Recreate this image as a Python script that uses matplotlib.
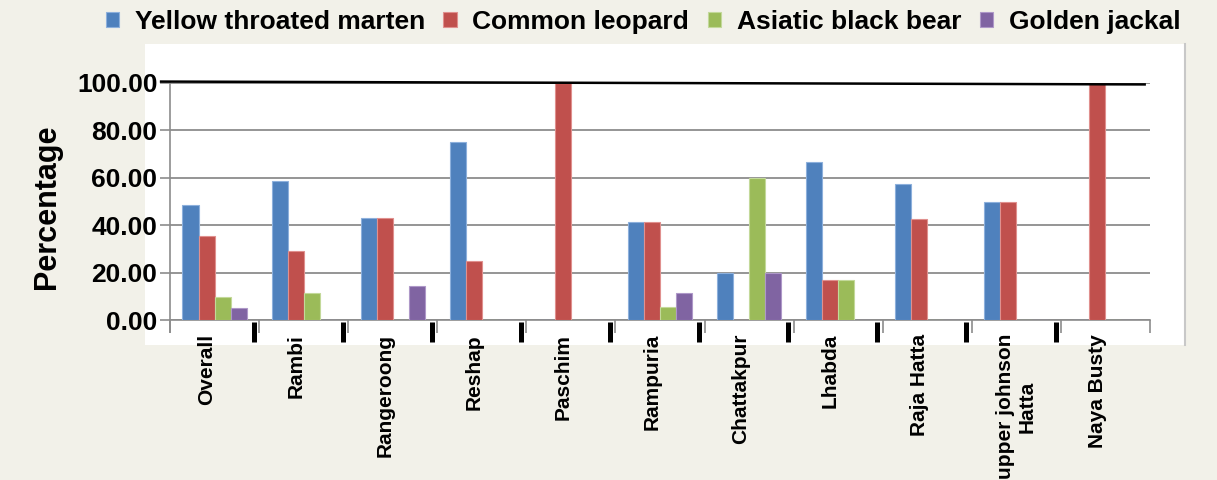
import numpy as np
import matplotlib
matplotlib.use("Agg")
import matplotlib.pyplot as plt
from matplotlib.patches import Rectangle
from matplotlib.lines import Line2D
import matplotlib.transforms as mtransforms

categories = ["Overall", "Rambi", "Rangeroong", "Reshap", "Paschim", "Rampuria",
              "Chattakpur", "Lhabda", "Raja Hatta", "upper johnson\nHatta", "Naya Busty"]
series_names = ["Yellow throated marten", "Common leopard", "Asiatic black bear", "Golden jackal"]
marten = [48.4, 58.8, 42.9, 75.2, 0, 41.2, 20.0, 66.7, 57.3, 50.0, 0]
leopard = [35.5, 29.1, 42.9, 24.8, 100.0, 41.2, 0, 16.7, 42.7, 50.0, 100.0]
bear = [9.8, 11.6, 0, 0, 0, 5.3, 60.0, 16.7, 0, 0, 0]
jackal = [5.0, 0, 14.2, 0, 0, 11.6, 20.0, 0, 0, 0, 0]
yticks = [0, 20, 40, 60, 80, 100]

colors = ["#4F81BD", "#C0504D", "#9BBB59", "#8064A2"]
edges = ["#8DB0DC", "#E0908E", "#C3D99A", "#AE98C8"]
bg = "#F2F1E9"
grid_c = "#8C8C8C"
FONT = "Liberation Sans"

W, H = 1217, 480
fig = plt.figure(figsize=(W / 100, H / 100), dpi=100, facecolor=bg)

# white chart panel
fig.patches.append(Rectangle((145 / W, 1 - 345 / H), 1040 / W, 301 / H,
                             transform=fig.transFigure, facecolor="white",
                             edgecolor="none", zorder=-2))
fig.lines.append(Line2D([1185 / W, 1185 / W], [1 - 345 / H, 1 - 44 / H],
                        transform=fig.transFigure, color="#C8C8C8", lw=1.5, zorder=-1))

ax = fig.add_axes([170 / W, 1 - 320 / H, 980 / W, 237 / H])
ax.set_facecolor("none")
ax.set_zorder(1)

x = np.arange(len(categories))
bw = 0.18
all_series = [marten, leopard, bear, jackal]
for i, (vals, name) in enumerate(zip(all_series, series_names)):
    ax.bar(x + (i - 1.5) * bw, vals, width=bw, color=colors[i], edgecolor=edges[i],
           linewidth=0.8, label=name, zorder=3)

ax.set_xlim(-0.5, len(categories) - 0.5)
ax.set_ylim(0, 100)
ax.set_yticks(yticks)
ax.set_yticklabels([f"{v:.2f}" for v in yticks], fontfamily=FONT,
                   fontweight="bold", fontsize=19)
ax.yaxis.grid(True, color=grid_c, lw=1.3, zorder=1)
ax.set_axisbelow(True)

for s in ["top", "right"]:
    ax.spines[s].set_visible(False)
for s in ["left", "bottom"]:
    ax.spines[s].set_color(grid_c)
    ax.spines[s].set_linewidth(1.2)
ax.spines["left"].set_bounds(-5, 100)

ax.tick_params(axis="y", length=7, width=1.2, color=grid_c, pad=2)

# category labels
ax.set_xticks(x)
ax.set_xticklabels(categories, rotation=90, fontfamily=FONT, fontweight="bold",
                   fontsize=15, va="top", ha="center", multialignment="center",
                   linespacing=1.2)
ax.tick_params(axis="x", which="major", length=0, pad=10)
for lbl in ax.get_xticklabels():
    if "\n" not in lbl.get_text():
        lbl.set_transform(lbl.get_transform() +
                          mtransforms.ScaledTranslation(-8 / 100, 0, fig.dpi_scale_trans))
ax.set_xticks(np.arange(len(categories) + 1) - 0.5, minor=True)
ax.tick_params(axis="x", which="minor", length=9, width=1.2, color=grid_c)

# thick black separators below axis
bounds = np.arange(1, len(categories)) - 0.5 - 0.06
ax.vlines(bounds, -0.85, -9.3, colors="black", lw=3.6, clip_on=False, zorder=5)

# black line on top at 100
ax.plot([-0.6, 10.44], [100.6, 99.4], color="black", lw=1.8, clip_on=False, zorder=6)

fig.text(47 / W, 1 - 207 / H, "Percentage", rotation=90, ha="center", va="center",
         fontfamily=FONT, fontweight="bold", fontsize=22)

leg = fig.legend(loc="center", bbox_to_anchor=(643 / W, 1 - 22 / H), ncol=4,
                 frameon=False, prop={"family": FONT, "weight": "bold", "size": 19},
                 handlelength=0.5, handleheight=0.5, handletextpad=0.6,
                 columnspacing=0.7, borderaxespad=0)

fig.savefig("out.png", dpi=100, facecolor=bg)
